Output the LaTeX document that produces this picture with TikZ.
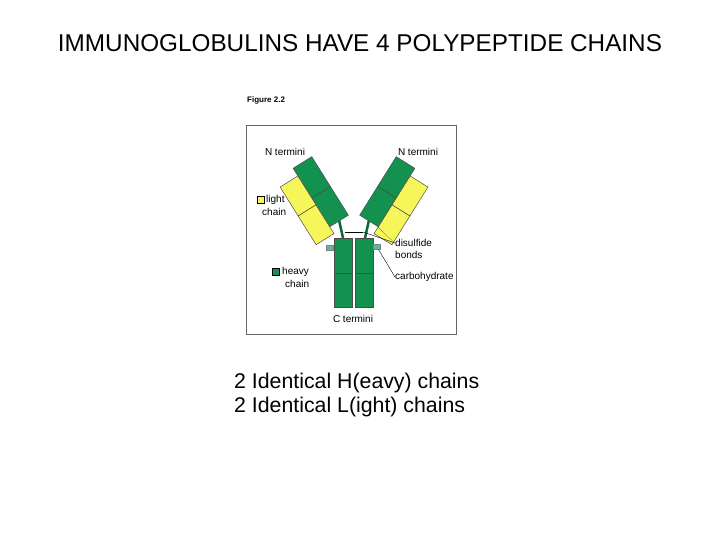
\documentclass[tikz,border=0pt]{standalone}
\usepackage{fontspec}
\setmainfont{Liberation Sans}
\definecolor{hgreen}{HTML}{12924E}
\definecolor{lyellow}{HTML}{F6F55A}
\definecolor{carb}{HTML}{5DB5A5}
\begin{document}
\begin{tikzpicture}[x=1pt,y=-1pt,
  hv/.style={draw=black!70,fill=hgreen,line width=0.5pt},
  lt/.style={draw=black!70,fill=lyellow,line width=0.5pt},
  lab/.style={font=\fontsize{10}{11}\selectfont,inner sep=0pt,align=left},
  lead/.style={draw=black,line width=0.4pt}]
\useasboundingbox (0,0) rectangle (720,540);
\node[font=\fontsize{24.3}{26}\selectfont] (title) at (360,43) {IMMUNOGLOBULINS HAVE 4 POLYPEPTIDE CHAINS};
\node[font=\bfseries\fontsize{8}{9}\selectfont,anchor=west,inner sep=0pt] (fig) at (247,100) {Figure 2.2};
\node[draw=black!60,line width=0.6pt,minimum width=210pt,minimum height=209pt,inner sep=0pt] (frame) at (351,229.5) {};
% Fc
\draw[hv] (334,238) rectangle (352,273);
\draw[hv] (334,273) rectangle (352,307);
\draw[hv] (355,238) rectangle (373,273);
\draw[hv] (355,273) rectangle (373,307);
% hinge
\draw[hgreen!70!black,line width=2.5pt] (339,220) -- (343,238);
\draw[hgreen!70!black,line width=2.5pt] (369,220) -- (365,238);
\coordinate (dsl) at (345,232); \coordinate (dsr) at (363,232);
\draw[black,line width=0.8pt] (dsl) -- (dsr);
% left arm
\begin{scope}[shift={(339,221)},rotate=32]
\draw[hv] (-11,0) rectangle (11,-34);
\draw[hv] (-11,-34) rectangle (11,-69);
\draw[lt] (-32,8) rectangle (-11,-26);
\draw[lt] (-32,-26) rectangle (-11,-60);
\end{scope}
% right arm
\begin{scope}[shift={(369,221)},rotate=-32]
\draw[hv] (-11,0) rectangle (11,-34);
\draw[hv] (-11,-34) rectangle (11,-69);
\draw[lt] (11,8) rectangle (32,-26);
\draw[lt] (11,-26) rectangle (32,-60);
\end{scope}
% carbohydrates
\node[fill=carb,draw=black!50,line width=0.3pt,minimum width=7pt,minimum height=5pt,inner sep=0pt] (c1) at (330,248) {};
\node[fill=carb,draw=black!50,line width=0.3pt,minimum width=7pt,minimum height=5pt,inner sep=0pt] (c2) at (377,247) {};
% labels
\node[lab] (nl) at (285,152) {N termini};
\node[lab] (nr) at (418,152) {N termini};
\node[lab] (ct) at (353,319) {C termini};
\node[draw=black,fill=lyellow,minimum size=7pt,inner sep=0pt] (ly) at (261,200) {};
\node[lab,anchor=west] (ltxt) at (266,200) {light};
\node[lab,anchor=west] (ltxt2) at (262,212) {chain};
\node[draw=black,fill=hgreen,minimum size=7pt,inner sep=0pt] (hy) at (276,272) {};
\node[lab,anchor=west] (htxt) at (282,272) {heavy};
\node[lab,anchor=west] (htxt2) at (285,284) {chain};
\node[lab,anchor=west] (ds) at (395,243) {disulfide};
\node[lab,anchor=west] (ds2) at (395,255) {bonds};
\node[lab,anchor=west] (cb) at (395,277) {carbohydrate};
\coordinate (dsp) at (378,227);
\draw[lead] (ds.west) -- (dsr);
\draw[lead,densely dotted] (ds.west) -- (dsp);
\draw[lead] (cb.west) -- (c2);
% bottom text
\node[font=\fontsize{21.3}{24}\selectfont,anchor=west,align=left,inner sep=0pt] (bt) at (234,395) {2 Identical H(eavy) chains\\2 Identical L(ight) chains};
\end{tikzpicture}
\end{document}
